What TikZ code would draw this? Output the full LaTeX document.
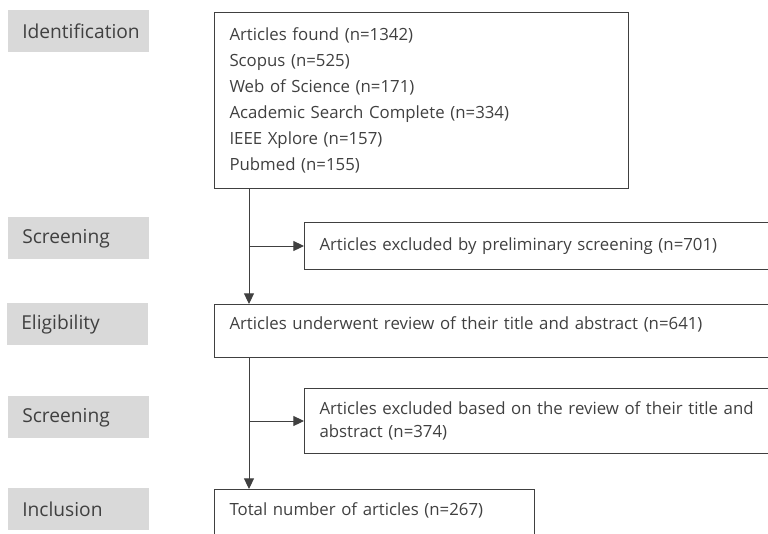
\documentclass[tikz,border=0pt]{standalone}
\usepackage{fontspec}
\setmainfont{Open Sans}
\usetikzlibrary{arrows.meta}
\newlength\pix
\setlength\pix{0.75pt}
\definecolor{phasegray}{HTML}{D9D9D9}
\definecolor{inkgray}{HTML}{404040}
\begin{document}
\begin{tikzpicture}[x=0.75pt,y=-0.75pt,
  phase/.style={fill=phasegray, text=inkgray, anchor=north west,
    minimum height=42\pix, text width=127\pix, inner xsep=7\pix, inner ysep=0pt,
    align=left, font=\fontsize{14.4pt}{17pt}\selectfont,
    execute at begin node={\hspace*{7\pix}}},
  box/.style={draw=inkgray, line width=1\pix, text=inkgray, anchor=north west,
    inner xsep=15\pix, inner ysep=0pt, align=left,
    font=\fontsize{12.6pt}{19.5pt}\selectfont},
  arr/.style={draw=inkgray, line width=1\pix, -{Triangle[length=8pt,width=7.5pt]}}]
\useasboundingbox (0,0) rectangle (768,533);
\clip (0,0) rectangle (768,533);

% phase labels
\node[phase] (idf) at (8,10) {Identification};
\node[phase] (scr1) at (8,217) {Screening};
\node[phase] (elig) at (7,303) {Eligibility};
\node[phase] (scr2) at (8,396) {Screening};
\node[phase] (incl) at (8,488) {Inclusion};

% boxes
\node[box, text width=384\pix, minimum height=176\pix] (found) at (214,12)
  {Articles found (n=1342)\\Scopus (n=525)\\Web of Science (n=171)\\
   Academic Search Complete (n=334)\\IEEE Xplore (n=157)\\Pubmed (n=155)};
\node[box, text width=470\pix, minimum height=47\pix] (excl1) at (304,222)
  {Articles excluded by preliminary screening (n=701)};
\node[box, text width=560\pix, minimum height=53\pix, text depth=15\pix] (review) at (214,304)
  {Articles underwent review of their title and abstract (n=641)};
\node[box, text width=480\pix, minimum height=65\pix,
  font=\fontsize{12.6pt}{17.25pt}\selectfont] (excl2) at (304,388)
  {Articles excluded based on the review of their title and\\abstract (n=374)};
\node[box, text width=290\pix, minimum height=50\pix, text depth=11\pix] (total) at (214,489)
  {Total number of articles (n=267)};

% ========== connectors ==========
\coordinate (trunkA) at ([xshift=35\pix]found.south west);
\coordinate (trunkB) at ([xshift=35\pix]review.south west);

\draw[arr] (trunkA) -- (trunkA |- review.north);
\draw[arr] (trunkA |- excl1.west) -- (excl1.west);

\draw[arr] (trunkB) -- (trunkB |- total.north);
\draw[arr] (trunkB |- excl2.west) -- (excl2.west);
\end{tikzpicture}
\end{document}
